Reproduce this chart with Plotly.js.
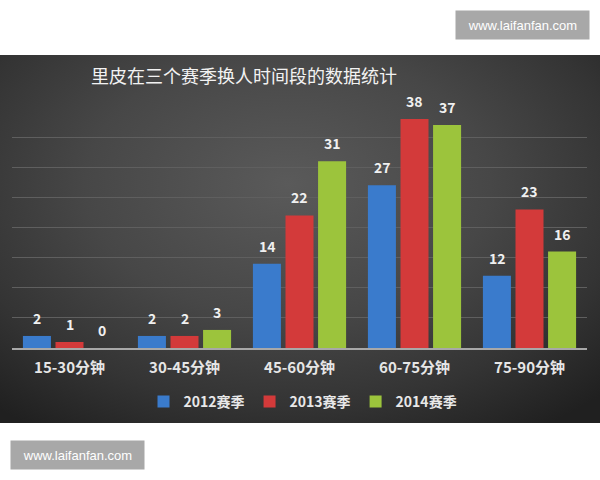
<!DOCTYPE html>
<html><head><meta charset="utf-8">
<script src="https://cdn.plot.ly/plotly-3.0.1.min.js"></script>
<style>
html,body{margin:0;padding:0;background:#fff;}
#wrap{position:relative;width:600px;height:480px;}
#bg{position:absolute;left:0;top:55px;width:600px;height:368px;
background:radial-gradient(ellipse 75% 80% at 48% 35%, #5a5a5a 0%, #474747 45%, #343434 75%, #202020 100%);}
#chart{position:absolute;left:0;top:0;width:600px;height:480px;}
</style></head>
<body><div id="wrap"><div id="bg"></div><div id="chart"></div></div>
<script>
const categories = ['15-30分钟','30-45分钟','45-60分钟','60-75分钟','75-90分钟'];
const seriesNames = ['2012赛季','2013赛季','2014赛季'];
const v2012 = [2, 2, 14, 27, 12];
const v2013 = [1, 2, 22, 38, 23];
const v2014 = [0, 3, 31, 37, 16];
const colors = ['#3a7bcc','#d33a3a','#9cc43c'];
const values = [v2012, v2013, v2014];

const font = "'Noto Sans CJK SC', 'Noto Sans', sans-serif";
const traces = values.map((v,i)=>({
  type:'bar', name: seriesNames[i], x: categories, y: v,
  marker:{color: colors[i], line:{width:0}}
}));

// value labels, placed through the axis scales, offset per series within the group
const labelAnn = [];
values.forEach((v,i)=>{
  v.forEach((val,j)=>{
    labelAnn.push({x: categories[j], y: val, xref:'x', yref:'y', text: String(val),
      showarrow:false, xanchor:'center', yanchor:'bottom', xshift:(i-1)*32.5, yshift:6,
      font:{family:font, size:14, color:'#f0f0f0', weight:'bold'}});
  });
});

const wm = (x,y)=>({text:'www.laifanfan.com', xref:'paper', yref:'paper', x:x, y:y,
  xanchor:'center', yanchor:'middle', showarrow:false, bgcolor:'#a8a8a8',
  width:131, height:26, font:{family:"'Liberation Sans', Arial, sans-serif", size:13, color:'#fff'}});
const px = p=>(p-12)/575, py = p=>(348-p)/241;

const layout = {
  width:600, height:480,
  paper_bgcolor:'rgba(0,0,0,0)', plot_bgcolor:'rgba(0,0,0,0)',
  margin:{l:12, r:13, t:107, b:132},
  barmode:'group', bargap:0.15, bargroupgap:0.14,
  showlegend:true,
  legend:{orientation:'h', x:0.505, xref:'container', xanchor:'center', y:1-402/480, yref:'container', yanchor:'middle',
    font:{family:font, size:14, color:'#e8e8e8', weight:'bold'}, itemwidth:30, traceorder:'normal'},
  title:{text:'里皮在三个赛季换人时间段的数据统计', x:244/600, xref:'container', xanchor:'center',
    y:1-77/480, yref:'container', yanchor:'middle', font:{family:font, size:18, color:'#f2f2f2'}},
  xaxis:{showgrid:false, showline:true, linecolor:'#a8a8a8', linewidth:1.5, ticks:'',
    tickfont:{family:font, size:15, color:'#e6e6e6', weight:'bold'}, ticklabelstandoff:5},
  yaxis:{range:[0,40], showticklabels:false, showgrid:true, gridcolor:'#5f5f5f', gridwidth:1,
    zeroline:false, dtick:5, ticks:''},
  annotations:labelAnn.concat([wm(px(522.5), py(25)), wm(px(77.5), py(455))])
};
Plotly.newPlot('chart', traces, layout, {displayModeBar:false, staticPlot:true});
</script></body></html>
